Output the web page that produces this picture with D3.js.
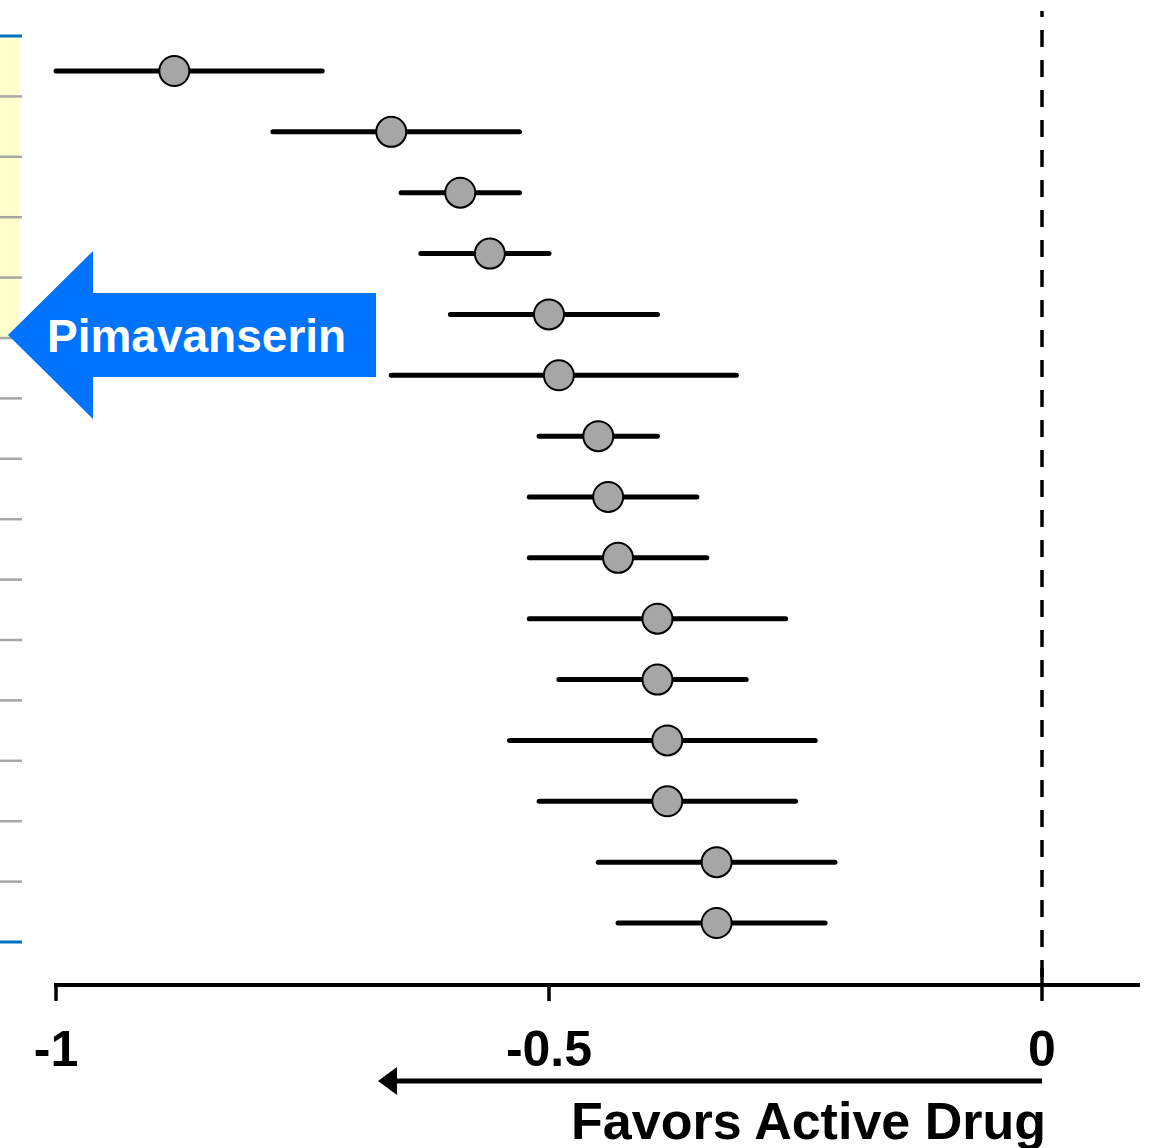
<!DOCTYPE html>
<html>
<head>
<meta charset="utf-8">
<script src="https://cdn.jsdelivr.net/npm/d3@7"></script>
<style>
  html, body { margin: 0; padding: 0; background: #fff; }
  svg { display: block; }
</style>
</head>
<body>
<svg id="chart"></svg>
<script>
// Rows of the forest plot, top to bottom (no row labels shown in the figure)
const studies = ["S1", "S2", "S3", "S4", "S5", "S6", "S7", "S8", "S9", "S10", "S11", "S12", "S13", "S14", "S15"];
const estimates = [-0.88, -0.66, -0.59, -0.56, -0.50, -0.49, -0.45, -0.44, -0.43, -0.39, -0.39, -0.38, -0.38, -0.33, -0.33];
const lowerCI = [-1.00, -0.78, -0.65, -0.63, -0.60, -0.66, -0.51, -0.52, -0.52, -0.52, -0.49, -0.54, -0.51, -0.45, -0.43];
const upperCI = [-0.73, -0.53, -0.53, -0.50, -0.39, -0.31, -0.39, -0.35, -0.34, -0.26, -0.30, -0.23, -0.25, -0.21, -0.22];
const xTicks = [-1, -0.5, 0];
const highlighted = ["S1", "S2", "S3", "S4", "S5"]; // pimavanserin rows
const arrowLabel = "Pimavanserin";
const axisCaption = "Favors Active Drug";

const W = 1149, H = 1148;
const svg = d3.select("#chart").attr("width", W).attr("height", H);

const x = d3.scaleLinear().domain([-1, 0]).range([56, 1042]);
// band scale for the left-hand row separators, point scale for the marks
const band = d3.scaleBand().domain(studies).range([36, 942]);
const y = d3.scalePoint().domain(studies).range([71, 923]);
const axisY = 985;
const font = "Liberation Sans, Arial, sans-serif";

const rows = studies.map((s, i) => ({ id: s, est: estimates[i], lo: lowerCI[i], hi: upperCI[i] }));

// yellow band behind highlighted rows
const hlTop = band(highlighted[0]);
const hlBottom = band(highlighted[highlighted.length - 1]) + band.bandwidth();
svg.append("rect").attr("x", 0).attr("y", hlTop).attr("width", 19).attr("height", hlBottom - hlTop).attr("fill", "#ffffcc");

// row separator ticks at left
const boundaries = studies.map(s => band(s)).concat([band.range()[1]]);
const isEnd = (d, i) => i === 0 || i === boundaries.length - 1;
svg.append("g").selectAll("line").data(boundaries).enter().append("line")
    .attr("x1", 0).attr("x2", 22)
    .attr("y1", d => d).attr("y2", d => d)
    .attr("stroke", (d, i) => isEnd(d, i) ? "#0070c0" : "#a6a6a6")
    .attr("stroke-width", (d, i) => isEnd(d, i) ? 3 : 2.5);

// zero reference line
svg.append("line").attr("x1", x(0)).attr("x2", x(0)).attr("y1", 11).attr("y2", axisY)
    .attr("stroke", "#000").attr("stroke-width", 3.5).attr("stroke-dasharray", "17,13").attr("stroke-dashoffset", 11);

// x axis
const axis = svg.append("g").attr("transform", `translate(0,${axisY})`);
axis.append("line").attr("x1", x(-1) - 2).attr("x2", 1140).attr("y1", 0).attr("y2", 0).attr("stroke", "#000").attr("stroke-width", 4);
axis.selectAll(".tick").data(xTicks).enter().append("line")
    .attr("x1", d => x(d)).attr("x2", d => x(d))
    .attr("y1", d => d === 0 ? -17 : 0).attr("y2", 16)
    .attr("stroke", "#000").attr("stroke-width", 3.5);
axis.selectAll(".lbl").data(xTicks).enter().append("text")
    .attr("x", d => x(d)).attr("y", 81)
    .attr("text-anchor", "middle")
    .attr("font-family", font).attr("font-weight", "bold").attr("font-size", "50px")
    .text(d => String(d));

// favors arrow + caption
const arrowY = 1081;
svg.append("line").attr("x1", x(0)).attr("x2", 394).attr("y1", arrowY).attr("y2", arrowY).attr("stroke", "#000").attr("stroke-width", 5);
svg.append("path").attr("d", `M378,${arrowY} L397,${arrowY - 14} L397,${arrowY + 14} Z`).attr("fill", "#000");
svg.append("text").attr("x", 1046).attr("y", 1139).attr("text-anchor", "end")
    .attr("font-family", font).attr("font-weight", "bold").attr("font-size", "52px")
    .text(axisCaption);

// confidence intervals and point estimates
const g = svg.append("g");
g.selectAll(".ci").data(rows).enter().append("line")
    .attr("x1", d => x(d.lo)).attr("x2", d => x(d.hi))
    .attr("y1", d => y(d.id)).attr("y2", d => y(d.id))
    .attr("stroke", "#000").attr("stroke-width", 5).attr("stroke-linecap", "round");
g.selectAll(".pt").data(rows).enter().append("circle")
    .attr("cx", d => x(d.est)).attr("cy", d => y(d.id)).attr("r", 15)
    .attr("fill", "#a6a6a6").attr("stroke", "#000").attr("stroke-width", 2);

// big blue arrow label
const ay = 335;
svg.append("path")
    .attr("d", `M8,${ay} L93,${ay - 84} L93,${ay - 42} L376,${ay - 42} L376,${ay + 42} L93,${ay + 42} L93,${ay + 84} Z`)
    .attr("fill", "#0073ff");
svg.append("text").attr("x", 47).attr("y", 352)
    .attr("font-family", font).attr("font-weight", "bold").attr("font-size", "46px")
    .attr("fill", "#fff").text(arrowLabel);
</script>
</body>
</html>
